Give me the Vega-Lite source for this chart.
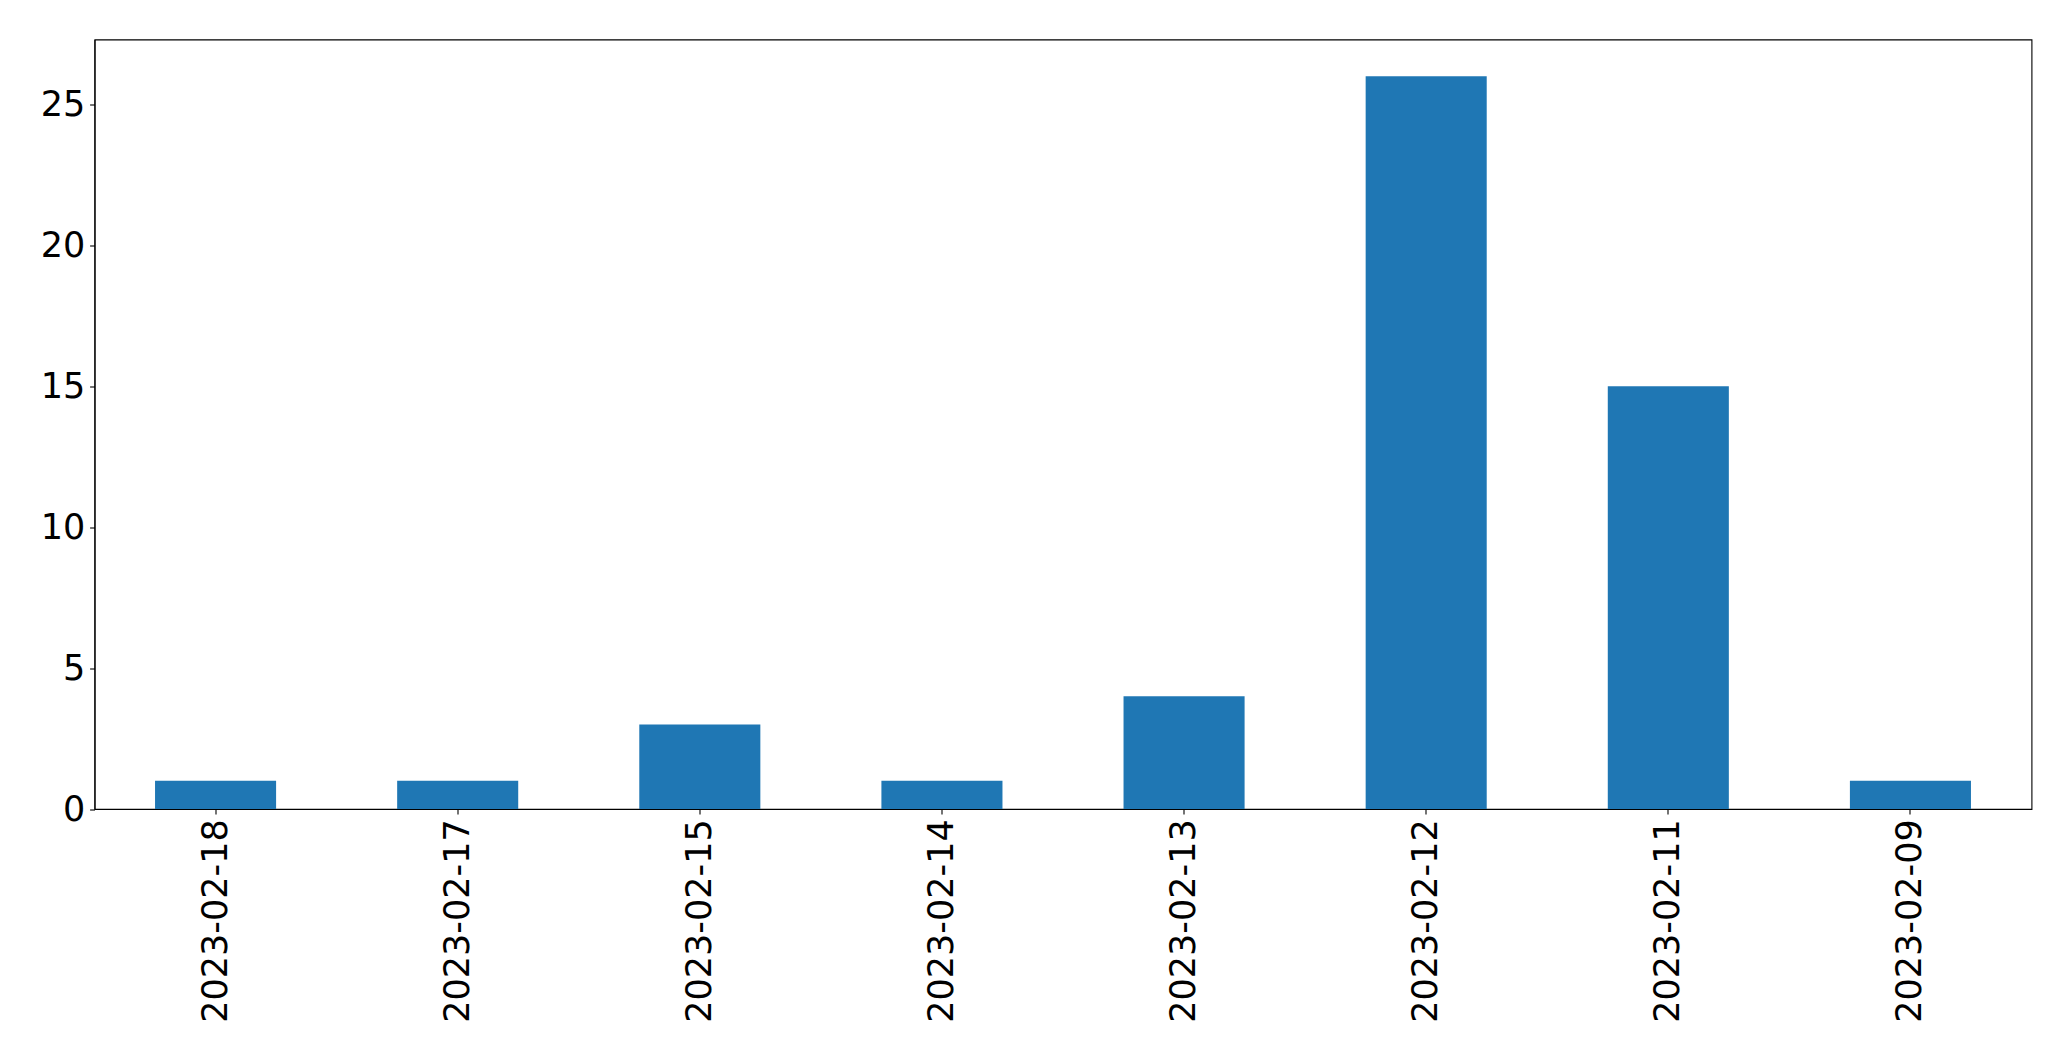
{
  "$schema": "https://vega.github.io/schema/vega-lite/v6.json",
  "autosize": {"type": "none"},
  "width": 1937,
  "height": 769.5,
  "padding": {"left": 94.5, "top": 39.5, "right": 39.5, "bottom": 252},
  "background": "white",
  "config": {
    "view": {"stroke": "black", "strokeWidth": 1.1},
    "font": "DejaVu Sans",
    "axis": {
      "grid": false,
      "domainColor": "black",
      "domainWidth": 1.1,
      "tickColor": "black",
      "tickWidth": 1.1,
      "tickSize": 4.9,
      "labelFont": "DejaVu Sans",
      "labelFontSize": 35,
      "labelColor": "black",
      "labelPadding": 4.9,
      "labelLimit": 0,
      "title": null
    }
  },
  "data": {
    "values": [
      {"date": "2023-02-18", "count": 1},
      {"date": "2023-02-17", "count": 1},
      {"date": "2023-02-15", "count": 3},
      {"date": "2023-02-14", "count": 1},
      {"date": "2023-02-13", "count": 4},
      {"date": "2023-02-12", "count": 26},
      {"date": "2023-02-11", "count": 15},
      {"date": "2023-02-09", "count": 1}
    ]
  },
  "mark": {"type": "bar", "color": "#1f77b4"},
  "encoding": {
    "x": {
      "field": "date",
      "type": "nominal",
      "sort": null,
      "scale": {"paddingInner": 0.5, "paddingOuter": 0.25},
      "axis": {"labelAngle": -90, "labelBaseline": "middle", "labelAlign": "right", "title": null}
    },
    "y": {
      "field": "count",
      "type": "quantitative",
      "scale": {"domain": [0, 27.3], "nice": false},
      "axis": {"values": [0, 5, 10, 15, 20, 25], "title": null}
    }
  }
}
